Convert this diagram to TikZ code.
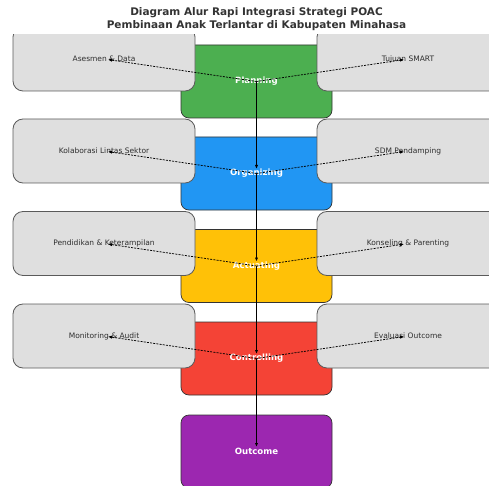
\documentclass[tikz,border=0pt]{standalone}
\usepackage{fontspec}
\setmainfont{DejaVu Sans}
\usepackage{xcolor}
\usetikzlibrary{arrows.meta}
\definecolor{PlanGreen}{HTML}{4CAF50}
\definecolor{OrgBlue}{HTML}{2196F3}
\definecolor{ActAmber}{HTML}{FFC107}
\definecolor{CtrlRed}{HTML}{F44336}
\definecolor{OutPurple}{HTML}{9C27B0}
\definecolor{Ink}{HTML}{333333}
\definecolor{Frame}{HTML}{5A5A5A}
\definecolor{PaleGrey}{HTML}{DFDFDF}

\begin{document}
\begin{tikzpicture}[
  x=1pt,y=-1pt,
  phase/.style={draw=Ink,line width=0.7pt,rounded corners=8pt,minimum width=151pt,minimum height=73pt,inner sep=0pt,text=white,font=\fontsize{8.6}{10}\selectfont\bfseries},
  aspect/.style={draw=Frame,line width=0.8pt,fill=PaleGrey,rounded corners=10pt,minimum width=182pt,minimum height=64pt,inner sep=0pt,text=Ink!90!black,font=\fontsize{7.5}{9}\selectfont},
  flow/.style={-{Latex[length=4pt,width=3.2pt]},line width=1.1pt,shorten >=4.5pt},
  link/.style={-{Latex[length=4pt,width=3.2pt]},line width=0.75pt,dash pattern=on 2pt off 1.2pt,shorten >=4pt}
]
\useasboundingbox (0,0) rectangle (489,486);

\node[font=\fontsize{10.5}{13}\selectfont\bfseries,text=Ink,align=center] (title) at (256.5,19.5)
  {Diagram Alur Rapi Integrasi Strategi POAC\\Pembinaan Anak Terlantar di Kabupaten Minahasa};

\begin{scope}
\clip (0,35) rectangle (489,486);
% POAC stages
\node[phase,fill=PlanGreen] (plan) at (256.5,81.5) {Planning};
\node[phase,fill=OrgBlue] (org) at (256.5,173.5) {Organizing};
\node[phase,fill=ActAmber] (act) at (256.5,266) {Actuating};
\node[phase,fill=CtrlRed] (ctrl) at (256.5,358.5) {Controlling};
\node[phase,fill=OutPurple] (outc) at (256.5,451.5) {Outcome};

% supporting aspects
\node[aspect] (asesmen) at (104,59) {Asesmen \& Data};
\node[aspect] (tujuan) at (408,59) {Tujuan SMART};
\node[aspect] (kolab) at (104,151) {Kolaborasi Lintas Sektor};
\node[aspect] (sdm) at (408,151) {SDM Pendamping};
\node[aspect] (didik) at (104,243.5) {Pendidikan \& Keterampilan};
\node[aspect] (konsel) at (408,243.5) {Konseling \& Parenting};
\node[aspect] (monit) at (104,336) {Monitoring \& Audit};
\node[aspect] (evalu) at (408,336) {Evaluasi Outcome};

\draw[link] (plan.center)--(asesmen.center);
\draw[link] (plan.center)--(tujuan.center);
\draw[link] (org.center)--(kolab.center);
\draw[link] (org.center)--(sdm.center);
\draw[link] (act.center)--(didik.center);
\draw[link] (act.center)--(konsel.center);
\draw[link] (ctrl.center)--(monit.center);
\draw[link] (ctrl.center)--(evalu.center);

\draw[flow] (plan.center)--(org.center);
\draw[flow] (org.center)--(act.center);
\draw[flow] (act.center)--(ctrl.center);
\draw[flow] (ctrl.center)--(outc.center);
\end{scope}
\end{tikzpicture}
\end{document}
